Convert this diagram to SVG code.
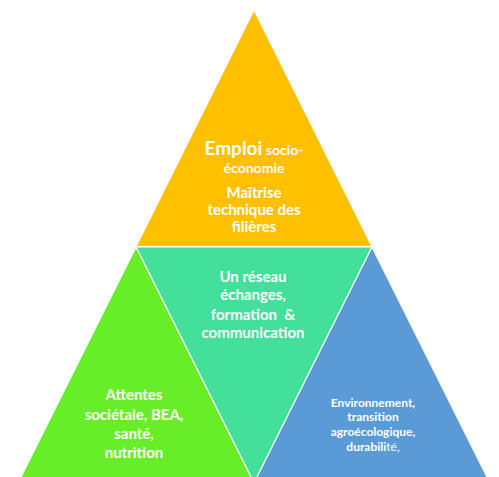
<svg xmlns="http://www.w3.org/2000/svg" width="499" height="477" viewBox="0 0 499 477">
<style>
.tri{stroke:#ffffff;stroke-width:1.2}
text{font-family:Lato,"Open Sans","Liberation Sans",sans-serif;font-weight:bold;fill:#ffffff;text-anchor:middle}
.m{font-size:15px}
.s{font-size:12px}
</style>
<rect width="499" height="477" fill="#ffffff"/>
<g id="node-top">
<polygon class="tri" points="254,10 136,246.5 372,246.5" fill="#FFC000"/>
<text x="254" y="155"><tspan font-size="19">Emploi</tspan><tspan font-size="14"> socio-</tspan></text>
<text x="254" y="173" font-size="14">économie</text>
<text class="m" x="254" y="198">Maîtrise</text>
<text class="m" x="254" y="215" font-size="14.5">technique des</text>
<text class="m" x="254" y="232">filières</text>
</g>
<g id="node-center">
<polygon class="tri" points="136,247 372,247 254,483" fill="#42E09A"/>
<text class="m" x="253" y="282">Un réseau</text>
<text class="m" x="253" y="300">échanges,</text>
<text class="m" x="253" y="320" xml:space="preserve">formation  &amp;</text>
<text class="m" x="253" y="338">communication</text>
</g>
<g id="node-left">
<polygon class="tri" points="136,247 18,483 254,483" fill="#68EE26"/>
<text class="m" x="134" y="400">Attentes</text>
<text class="m" x="134" y="420">sociétale, BEA,</text>
<text class="m" x="134" y="439">santé,</text>
<text class="m" x="134" y="458">nutrition</text>
</g>
<g id="node-right">
<polygon class="tri" points="372,247 254,483 490,483" fill="#5B9BD5"/>
<text class="s" x="373" y="407">Environnement,</text>
<text class="s" x="373" y="421">transition</text>
<text class="s" x="373" y="436">agroécologique,</text>
<text class="s" x="373" y="451">durabili<tspan font-weight="normal">té,</tspan></text>
</g>
<g id="connectors"></g>
</svg>
